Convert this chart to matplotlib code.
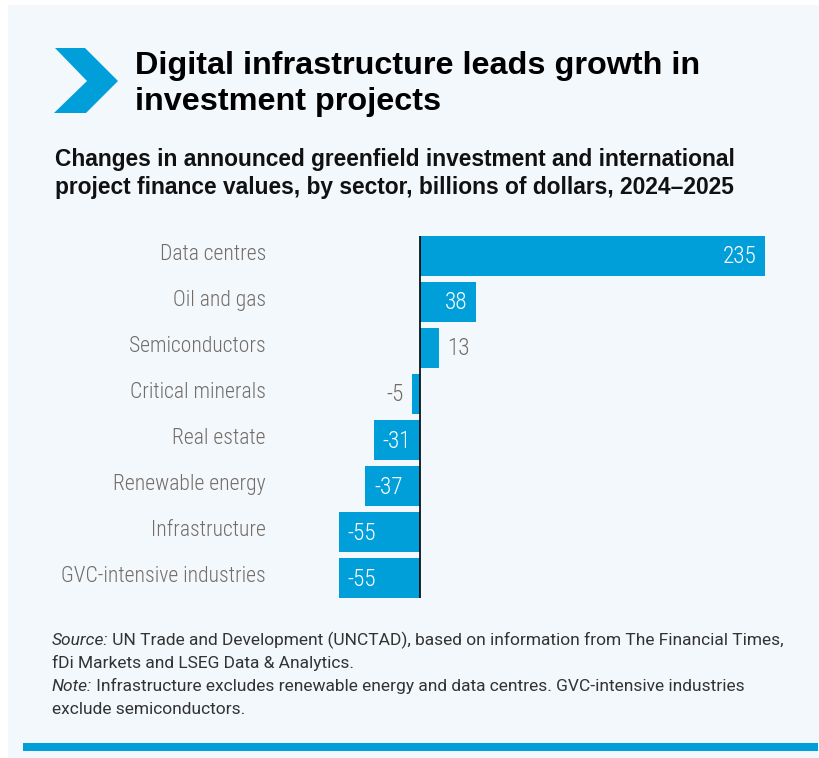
import matplotlib
matplotlib.use("Agg")
import matplotlib.pyplot as plt
from matplotlib import font_manager as fm
from matplotlib.patches import Rectangle, Polygon
from matplotlib.transforms import blended_transform_factory, ScaledTranslation

# ---------------- data ----------------
categories = ["Data centres", "Oil and gas", "Semiconductors", "Critical minerals",
              "Real estate", "Renewable energy", "Infrastructure", "GVC-intensive industries"]
values = [235, 38, 13, -5, -31, -37, -55, -55]

title_lines = ["Digital infrastructure leads growth in", "investment projects"]
subtitle_lines = ["Changes in announced greenfield investment and international",
                  "project finance values, by sector, billions of dollars, 2024\u20132025"]
foot_lines = [("Source:", " UN Trade and Development (UNCTAD), based on information from The Financial Times,"),
              ("", "fDi Markets and LSEG Data & Analytics."),
              ("Note:", " Infrastructure excludes renewable energy and data centres. GVC-intensive industries"),
              ("", "exclude semiconductors.")]

# ---------------- style ----------------
W, H = 820, 758
BLUE = "#009FDA"
PANEL = "#F3F8FC"
LABEL_GREY = "#736C67"
FOOT_GREY = "#333333"

available = {f.name for f in fm.fontManager.ttflist}
def pick(cands):
    for c in cands:
        if c in available:
            return c
    return "DejaVu Sans"

F_TITLE = pick(["Liberation Sans", "Arimo", "DejaVu Sans"])
F_LABEL = pick(["Roboto Condensed", "Archivo Narrow", "Liberation Sans Narrow", "DejaVu Sans"])
F_FOOT = pick(["Roboto", "Liberation Sans", "DejaVu Sans"])
LABEL_WEIGHT = 300

fig = plt.figure(figsize=(W / 100, H / 100), dpi=100)
fig.patch.set_facecolor("white")
renderer = fig.canvas.get_renderer()

def fx(x):
    return x / W

def fy(y):
    return 1 - y / H

def width_of(s, **kw):
    t = fig.text(0, 0, s, **kw)
    w = t.get_window_extent(renderer).width
    t.remove()
    return w

def fit_size(s, target, **kw):
    base = 20
    return base * target / width_of(s, fontsize=base, **kw)

# panel background
fig.add_artist(Rectangle((fx(8), 0), fx(W - 8), 1 - (5 / H), transform=fig.transFigure,
                         facecolor=PANEL, edgecolor="none", zorder=0))
# bottom blue rule
fig.add_artist(Rectangle((fx(23), fy(751)), fx(818 - 23), 8 / H, transform=fig.transFigure,
                         facecolor=BLUE, edgecolor="none", zorder=1))
# chevron
chev = [(55, 48), (85, 48), (118, 81), (86, 113), (54, 113), (87, 81)]
fig.add_artist(Polygon([(fx(x), fy(y)) for x, y in chev], closed=True, transform=fig.transFigure,
                       facecolor=BLUE, edgecolor="none", zorder=1))

# title
ts = fit_size(title_lines[0], 700 - 135, family=F_TITLE, weight="bold")
for line, yb in zip(title_lines, [74, 110]):
    fig.text(fx(135), fy(yb), line, fontsize=ts, family=F_TITLE, weight="bold",
             color="#000000", va="baseline", ha="left")

# subtitle
ss = fit_size(subtitle_lines[0], 738 - 55, family=F_TITLE, weight="bold")
for line, yb in zip(subtitle_lines, [166, 194]):
    fig.text(fx(55), fy(yb), line, fontsize=ss, family=F_TITLE, weight="bold",
             color="#111111", va="baseline", ha="left")

# footnotes
full0 = foot_lines[0][0] + foot_lines[0][1]
fs = fit_size(full0, 785 - 52, family=F_FOOT, weight="normal")
for (ital, rest), yb in zip(foot_lines, [645, 668, 691, 714]):
    x = 52
    if ital:
        fig.text(fx(x), fy(yb), ital, fontsize=fs, family=F_FOOT, weight="normal", style="italic",
                 color=FOOT_GREY, va="baseline", ha="left")
        x += width_of(ital, fontsize=fs, family=F_FOOT, weight="normal", style="italic")
    fig.text(fx(x), fy(yb), rest, fontsize=fs, family=F_FOOT, weight="normal",
             color=FOOT_GREY, va="baseline", ha="left")

# ---------------- chart ----------------
ax = fig.add_axes([fx(339), fy(598), (765 - 339) / W, (598 - 236) / H])
ax.set_facecolor("none")
n = len(values)
ypos = list(range(n))
ax.barh(ypos, values, height=0.86, color=BLUE, edgecolor="none", zorder=2)
ax.set_xlim(min(values), max(values))
ax.set_ylim(n - 1 + 0.43, -0.43)
ax.axvline(0, color="#000000", lw=1.2, zorder=3)
for s in ax.spines.values():
    s.set_visible(False)
ax.set_xticks([])
ax.set_yticks([])

ls = fit_size("GVC-intensive industries", 266 - 62, family=F_LABEL, weight=LABEL_WEIGHT)

# category labels
cat_tr = blended_transform_factory(fig.transFigure, ax.transData) + \
    ScaledTranslation(0, -4.0 / 100, fig.dpi_scale_trans)
for yv, c in zip(ypos, categories):
    ax.text(fx(266), yv, c, transform=cat_tr, ha="right", va="baseline",
            fontsize=ls, family=F_LABEL, weight=LABEL_WEIGHT, color=LABEL_GREY)

# value labels
vs = ls * 1.08
gap = 8.5 / 100
for yv, v in zip(ypos, values):
    inside = abs(v) >= 20
    if v >= 0:
        dx = -gap if inside else gap
        ha = "right" if inside else "left"
    else:
        dx = gap if inside else -gap
        ha = "left" if inside else "right"
    tr = ax.transData + ScaledTranslation(dx, -7.5 / 100, fig.dpi_scale_trans)
    ax.text(v, yv, f"{v}", transform=tr, ha=ha, va="baseline", fontsize=vs, family=F_LABEL,
            weight=LABEL_WEIGHT, color="white" if inside else LABEL_GREY, zorder=4)

fig.savefig("out.png", dpi=100, facecolor=fig.get_facecolor())
